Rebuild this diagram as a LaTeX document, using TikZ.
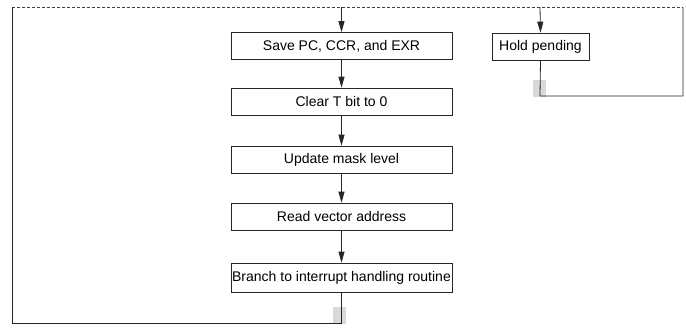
\documentclass[tikz,border=0pt]{standalone}
\usepackage{fontspec}
\setmainfont{Liberation Sans}
\usetikzlibrary{arrows.meta}
\begin{document}
\begin{tikzpicture}[x=1pt,y=-1pt,
  line width=0.8pt,
  box/.style={draw=black!85, line width=0.7pt, minimum height=27pt, inner sep=0pt, font=\fontsize{14}{16}\selectfont},
  mainbox/.style={box, minimum width=221pt},
  flow/.style={draw=black!85, -{Triangle[length=11pt,width=6pt]}},
  wire/.style={draw=black!85},
  dashwire/.style={draw=black!75, dash pattern=on 3pt off 2pt},
  mark box/.style={fill=black!15, draw=none}]
\useasboundingbox (0,0) rectangle (686,327);
% gray markers
\fill[mark box] (533,80) rectangle (546,97);
\fill[mark box] (333,307) rectangle (346,324);
% coordinates
\coordinate (tl) at (12,7);
\coordinate (tr) at (683,7);
\coordinate (tm) at (341.5,7);
\coordinate (th) at (540,7);
\coordinate (bl) at (12,323);
\coordinate (bm) at (341.5,323);
\coordinate (hb) at (540,96);
\coordinate (hr) at (683,96);
% nodes
\node[mainbox] (s1) at (341.5,46) {Save PC, CCR, and EXR};
\node[mainbox] (s2) at (341.5,101.5) {Clear T bit to 0};
\node[mainbox] (s3) at (341.5,159.5) {Update mask level};
\node[mainbox] (s4) at (341.5,216.5) {Read vector address};
\node[mainbox, minimum height=29pt] (s5) at (341.5,277.5) {Branch to interrupt handling routine};
\node[box, minimum width=97pt] (hp) at (540.5,46.5) {Hold pending};
% top dashed line
\draw[dashwire] (tl) -- (tr);
% arrows
\draw[flow] (tm) -- (s1.north);
\draw[flow] (th) -- (hp.north);
\draw[flow] (s1) -- (s2);
\draw[flow] (s2) -- (s3);
\draw[flow] (s3) -- (s4);
\draw[flow] (s4) -- (s5);
% loops
\draw[wire] (hp.south) -- (hb) -- (hr) -- (tr);
\draw[wire] (s5.south) -- (bm) -- (bl) -- (tl);
\end{tikzpicture}
\end{document}
